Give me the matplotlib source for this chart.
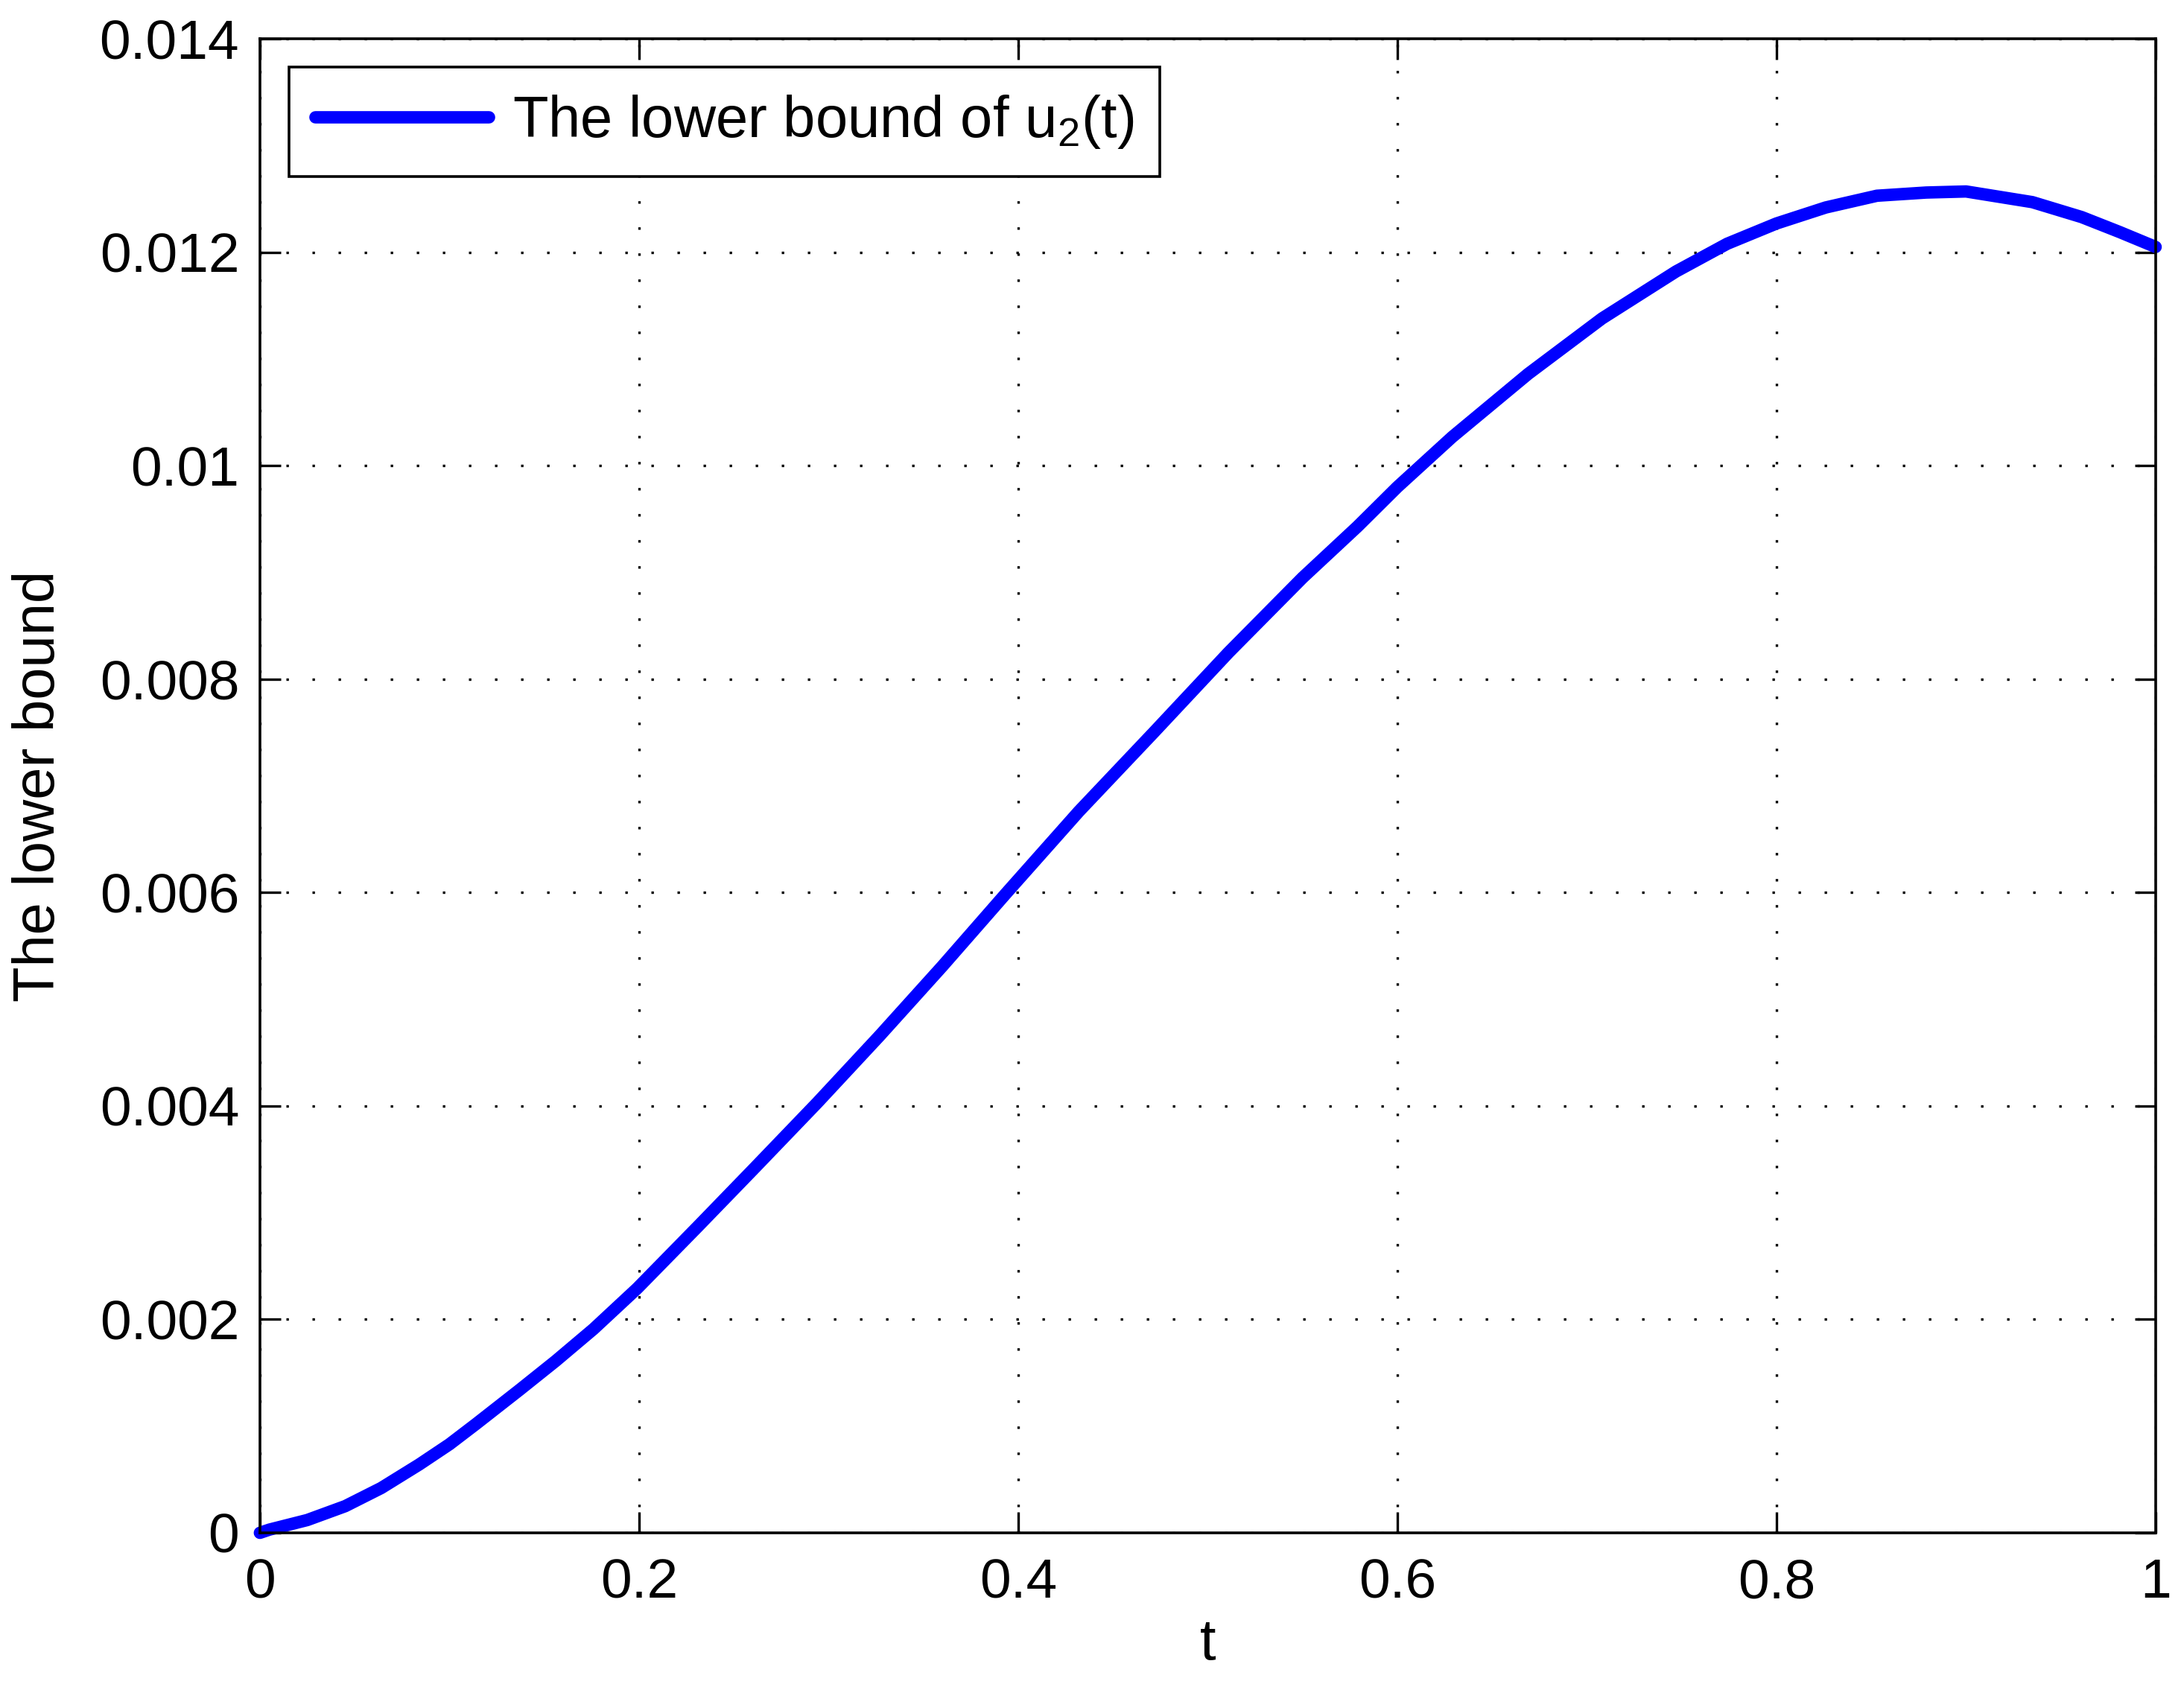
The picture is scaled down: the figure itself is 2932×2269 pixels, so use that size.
import matplotlib
matplotlib.use("Agg")
import matplotlib.pyplot as plt

# --- data ---
t_vals = [0.0, 0.005, 0.025, 0.045, 0.064, 0.084, 0.100, 0.114, 0.137,
          0.156, 0.176, 0.199, 0.231, 0.261, 0.294, 0.327, 0.360, 0.393,
          0.432, 0.472, 0.511, 0.550, 0.579, 0.600, 0.629, 0.669, 0.708,
          0.747, 0.774, 0.800, 0.826, 0.853, 0.879, 0.900, 0.935, 0.961,
          0.981, 1.0]
lower_bound = [0.0, 0.00003, 0.00012, 0.00025, 0.00042, 0.00064, 0.00083,
               0.00102, 0.00134, 0.00161, 0.00191, 0.00229, 0.00287,
               0.00342, 0.00403, 0.00466, 0.00531, 0.00598, 0.00676,
               0.00751, 0.00825, 0.00895, 0.00943, 0.00980, 0.01027,
               0.01086, 0.01138, 0.01182, 0.01208, 0.01227, 0.01242,
               0.01253, 0.01256, 0.01257, 0.01247, 0.01233, 0.01219,
               0.01205]
x_ticks = [0, 0.2, 0.4, 0.6, 0.8, 1]
x_labels = ['0', '0.2', '0.4', '0.6', '0.8', '1']
y_ticks = [0, 0.002, 0.004, 0.006, 0.008, 0.01, 0.012, 0.014]
y_labels = ['0', '0.002', '0.004', '0.006', '0.008', '0.01', '0.012', '0.014']

plt.rcParams['font.family'] = ['Liberation Sans', 'DejaVu Sans']
plt.rcParams['mathtext.fontset'] = 'custom'
plt.rcParams['mathtext.rm'] = 'Liberation Sans'

fig = plt.figure(figsize=(14.66, 11.345), dpi=200)
ax = fig.add_axes([0.119, 0.093, 0.868, 0.884])

ax.plot(t_vals, lower_bound, color='#0000ff', linewidth=6, solid_capstyle='round',
        solid_joinstyle='round', label='The lower bound of u$_2$(t)', clip_on=False)

ax.set_xlim(0, 1)
ax.set_ylim(0, 0.014)
ax.set_xticks(x_ticks)
ax.set_xticklabels(x_labels)
ax.set_yticks(y_ticks)
ax.set_yticklabels(y_labels)
ax.tick_params(direction='in', top=True, right=True, length=10, width=1.2,
               labelsize=27, pad=10)
ax.tick_params(axis='x', pad=12)
for s in ax.spines.values():
    s.set_linewidth(1.3)

ax.grid(True, linestyle=(0, (1, 9.5)), color='black', linewidth=1.2)

ax.set_xlabel('t', fontsize=28, labelpad=4)
ax.set_ylabel('The lower bound', fontsize=28, labelpad=16)

leg = ax.legend(loc='upper left', fontsize=28, fancybox=False, framealpha=1,
                edgecolor='black', handlelength=3.0, handletextpad=0.4,
                borderpad=0.45, borderaxespad=0,
                bbox_to_anchor=(0.0154, 0.981))
leg.get_frame().set_linewidth(1.3)

fig.savefig('out.png', dpi=200)
